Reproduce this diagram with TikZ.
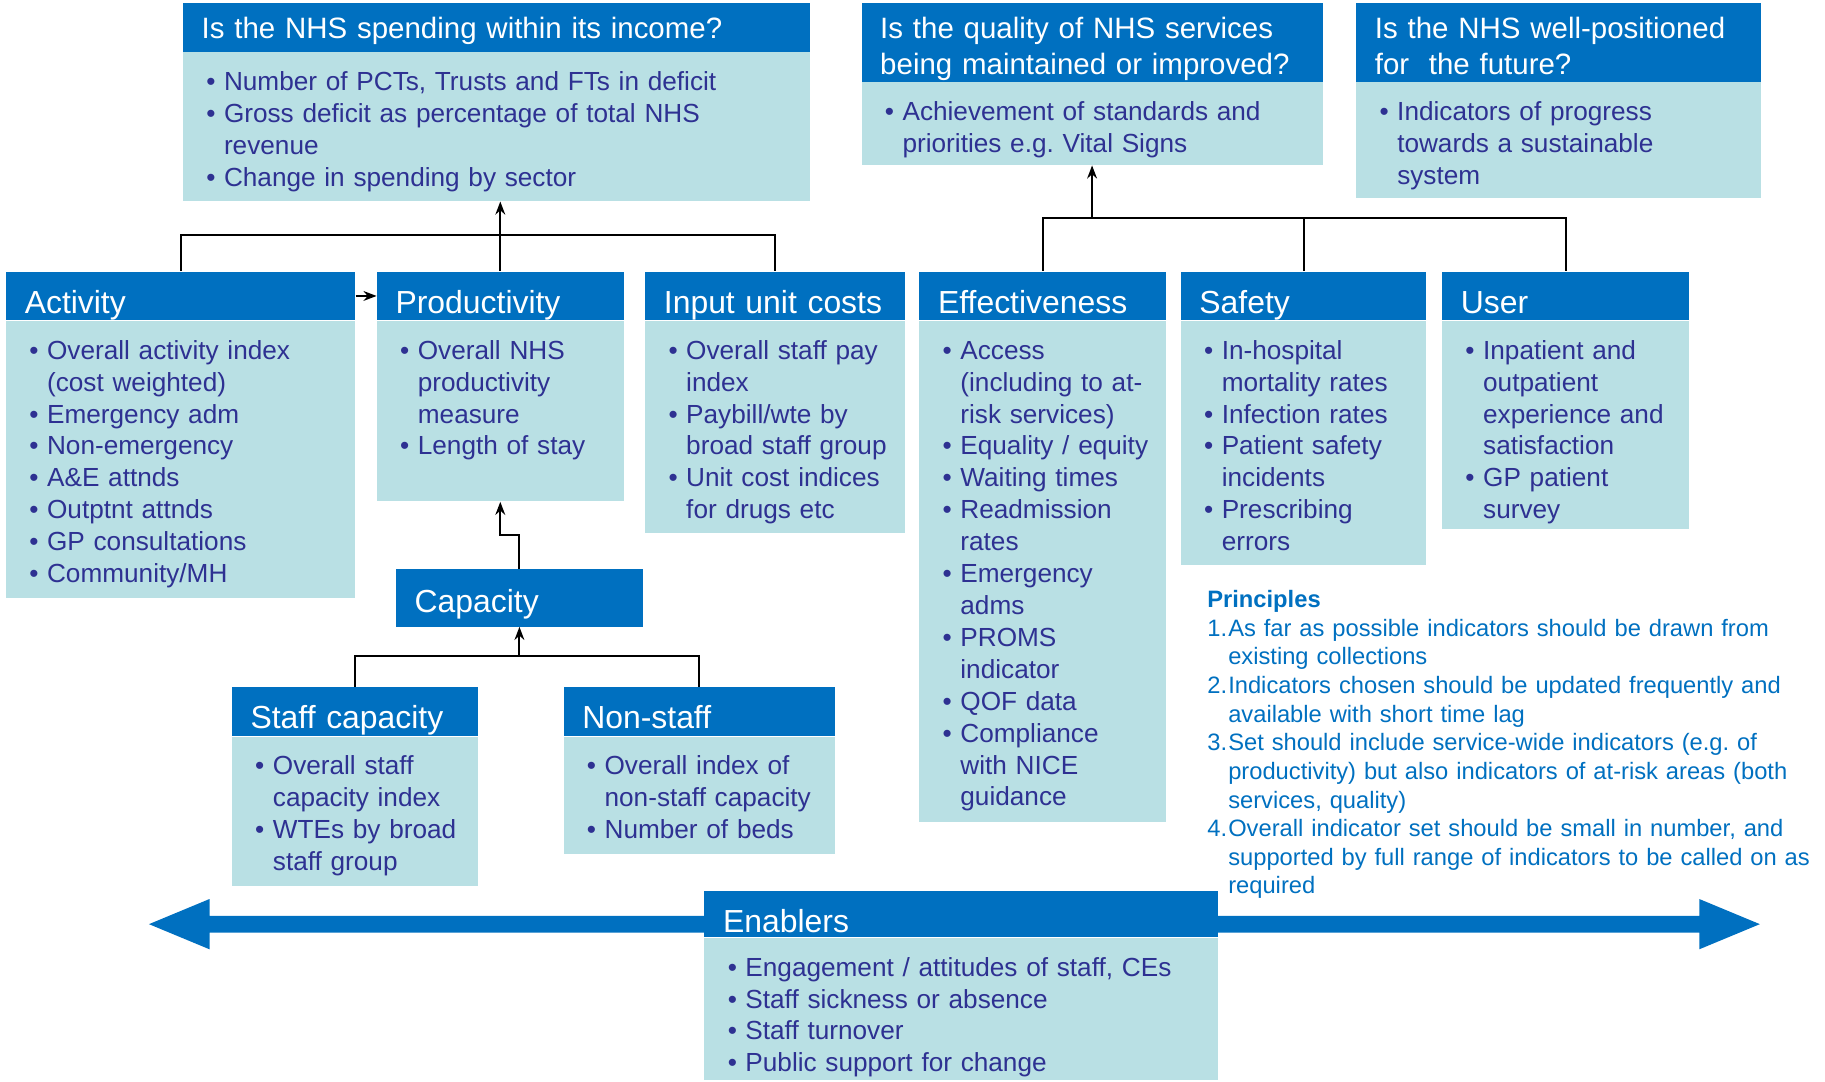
\documentclass[tikz,border=0pt]{standalone}
\usepackage{fontspec}
\setmainfont{Liberation Sans}
\usetikzlibrary{arrows.meta,calc,positioning}

\definecolor{hdblue}{HTML}{0070C0}
\definecolor{bodyteal}{HTML}{B9E0E4}
\definecolor{txtblue}{HTML}{2E3192}

% bullet items and numbered items with hanging indent
\newcommand{\bul}{\hangindent=0.78cm\hangafter=1\hspace*{0.4cm}\makebox[0.38cm][l]{\textbullet}}
\newcommand{\itm}{\par\noindent\bul}
\newcommand{\pnt}[1]{\par\hangindent=0.45cm\hangafter=1\noindent\makebox[0.45cm][l]{#1}}

\tikzset{
  hdr/.style={fill=hdblue, text=white, inner xsep=0.4cm, inner ysep=0pt,
    text height=0.9cm, text depth=0.15cm, align=left, anchor=north west,
    font=\fontsize{19.5}{23}\selectfont},
  qhdr/.style={hdr, text height=0.775cm, text depth=0.275cm,
    font=\fontsize{18}{22}\selectfont},
  bdy/.style={fill=bodyteal, text=txtblue, inner xsep=0.1cm, inner ysep=0.3cm,
    text height=0.52cm, align=left, font=\fontsize{16}{19.5}\selectfont},
  conn/.style={draw=black, line width=1.3pt},
  tip/.style={-{Stealth[length=8pt,width=6pt]}}
}

\begin{document}
\begin{tikzpicture}
  \useasboundingbox (0,0) rectangle (39.2,-23.225);

  % questions
  \node[qhdr, text width=12.675cm] (q1) at (3.925,-0.05) {Is the NHS spending within its income?};
  \node[bdy, text width=13.275cm, text depth=2.08cm, below=0pt of q1] (q1b)
    {\bul Number of PCTs, Trusts and FTs in deficit
     \itm Gross deficit as percentage of total NHS\newline revenue
     \itm Change in spending by sector\par};
  \node[qhdr, text width=9.1cm, text depth=0.925cm] (q2) at (18.5,-0.05)
    {Is the quality of NHS services\\being maintained or improved?};
  \node[bdy, text width=9.7cm, text depth=0.655cm, below=0pt of q2] (q2b)
    {\bul Achievement of standards and\newline priorities e.g.\ Vital Signs\par};
  \node[qhdr, text width=7.9cm, text depth=0.925cm] (q3) at (29.125,-0.05)
    {Is the NHS well-positioned\\for\ \ the future?};
  \node[bdy, text width=8.5cm, text depth=1.355cm, below=0pt of q3] (q3b)
    {\bul Indicators of progress\newline towards a sustainable\newline system\par};

  % categories
  \node[hdr, text width=6.7cm] (act) at (0.125,-5.825) {Activity};
  \node[bdy, text width=7.3cm, text depth=4.83cm, below=0pt of act] (actb)
    {\bul Overall activity index\newline (cost weighted)
     \itm Emergency adm
     \itm Non-emergency
     \itm A\&E attnds
     \itm Outptnt attnds
     \itm GP consultations
     \itm Community/MH\par};
  \node[hdr, text width=4.5cm, anchor=west, right=0.45cm of act] (prod) {Productivity};
  \node[bdy, text width=5.1cm, text depth=2.755cm, below=0pt of prod] (prodb)
    {\bul Overall NHS\newline productivity\newline measure
     \itm Length of stay\par};
  \node[hdr, text width=4.775cm, anchor=west, right=0.45cm of prod] (inp) {Input unit costs};
  \node[bdy, text width=5.375cm, text depth=3.43cm, below=0pt of inp] (inpb)
    {\bul Overall staff pay\newline index
     \itm Paybill/wte by\newline broad staff group
     \itm Unit cost indices\newline for drugs etc\par};
  \node[hdr, text width=4.5cm, anchor=west, right=0.3cm of inp] (eff) {Effectiveness};
  \node[bdy, text width=5.1cm, text depth=9.63cm, below=0pt of eff] (effb)
    {\bul Access\newline (including to at-\newline risk services)
     \itm Equality / equity
     \itm Waiting times
     \itm Readmission\newline rates
     \itm Emergency\newline adms
     \itm PROMS\newline indicator
     \itm QOF data
     \itm Compliance\newline with NICE\newline guidance\par};
  \node[hdr, text width=4.475cm, anchor=west, right=0.3cm of eff] (saf) {Safety};
  \node[bdy, text width=5.075cm, text depth=4.13cm, below=0pt of saf] (safb)
    {\bul In-hospital\newline mortality rates
     \itm Infection rates
     \itm Patient safety\newline incidents
     \itm Prescribing\newline errors\par};
  \node[hdr, text width=4.5cm, anchor=west, right=0.325cm of saf] (usr) {User};
  \node[bdy, text width=5.1cm, text depth=3.355cm, below=0pt of usr] (usrb)
    {\bul Inpatient and\newline outpatient\newline experience and\newline satisfaction
     \itm GP patient\newline survey\par};

  % capacity
  \node[hdr, text width=4.5cm, text height=0.925cm, text depth=0.3cm] (cap) at (8.5,-12.225) {Capacity};
  \node[hdr, text width=4.475cm] (stf) at (4.975,-14.75) {Staff capacity};
  \node[bdy, text width=5.075cm, text depth=2.08cm, below=0pt of stf] (stfb)
    {\bul Overall staff\newline capacity index
     \itm WTEs by broad\newline staff group\par};
  \node[hdr, text width=5.025cm] (non) at (12.1,-14.75) {Non-staff};
  \node[bdy, text width=5.625cm, text depth=1.405cm, below=0pt of non] (nonb)
    {\bul Overall index of\newline non-staff capacity
     \itm Number of beds\par};

  % principles
  \node[text=hdblue, text width=13.2cm, align=left, inner sep=0pt, anchor=base west,
    font=\fontsize{14.5}{17.5}\selectfont] (prin) at (25.925,-13.05)
    {\textbf{Principles}
     \pnt{1.}As far as possible indicators should be drawn from\newline existing collections
     \pnt{2.}Indicators chosen should be updated frequently and\newline available with short time lag
     \pnt{3.}Set should include service-wide indicators (e.g.\ of\newline productivity) but also indicators of at-risk areas (both\newline services, quality)
     \pnt{4.}Overall indicator set should be small in number, and\newline supported by full range of indicators to be called on as\newline required\par};

  % enablers over the double arrow
  \fill[hdblue] (3.2,-19.85) -- (4.5,-19.31) -- (4.5,-19.67) -- (36.5,-19.67) -- (36.5,-19.31)
    -- (37.8,-19.85) -- (36.5,-20.39) -- (36.5,-20.03) -- (4.5,-20.03) -- (4.5,-20.39) -- cycle;
  \node[hdr, text width=10.225cm, text height=0.9cm, text depth=0.1cm] (enb) at (15.125,-19.125) {Enablers};
  \node[bdy, text width=10.825cm, text depth=1.93cm, below=0pt of enb] (enbb)
    {\bul Engagement / attitudes of staff, CEs
     \itm Staff sickness or absence
     \itm Staff turnover
     \itm Public support for change\par};

  % connectors
  \coordinate (j1) at ($(prod.north)+(0,0.775)$);
  \coordinate (j2) at ($(saf.north)+(0,1.15)$);
  \coordinate (j3) at ($(cap.south)+(0,-0.625)$);

  \draw[conn] (act.north) |- (j1) -| (inp.north);
  \draw[conn, tip] (prod.north) -- (prod.north |- q1b.south);
  \draw[conn] (eff.north) |- (j2) -| (usr.north);
  \draw[conn] (saf.north) -- (j2);
  \draw[conn, tip] (q2b.south |- j2) -- (q2b.south);
  \draw[conn, tip] (act.east) -- (prod.west);
  \draw[conn, tip] (cap.north) -- ++(0,0.725) -| (prodb.south);
  \draw[conn] (stf.north) |- (j3) -| (non.north);
  \draw[conn, tip] (j3) -- (cap.south);

\end{tikzpicture}
\end{document}
